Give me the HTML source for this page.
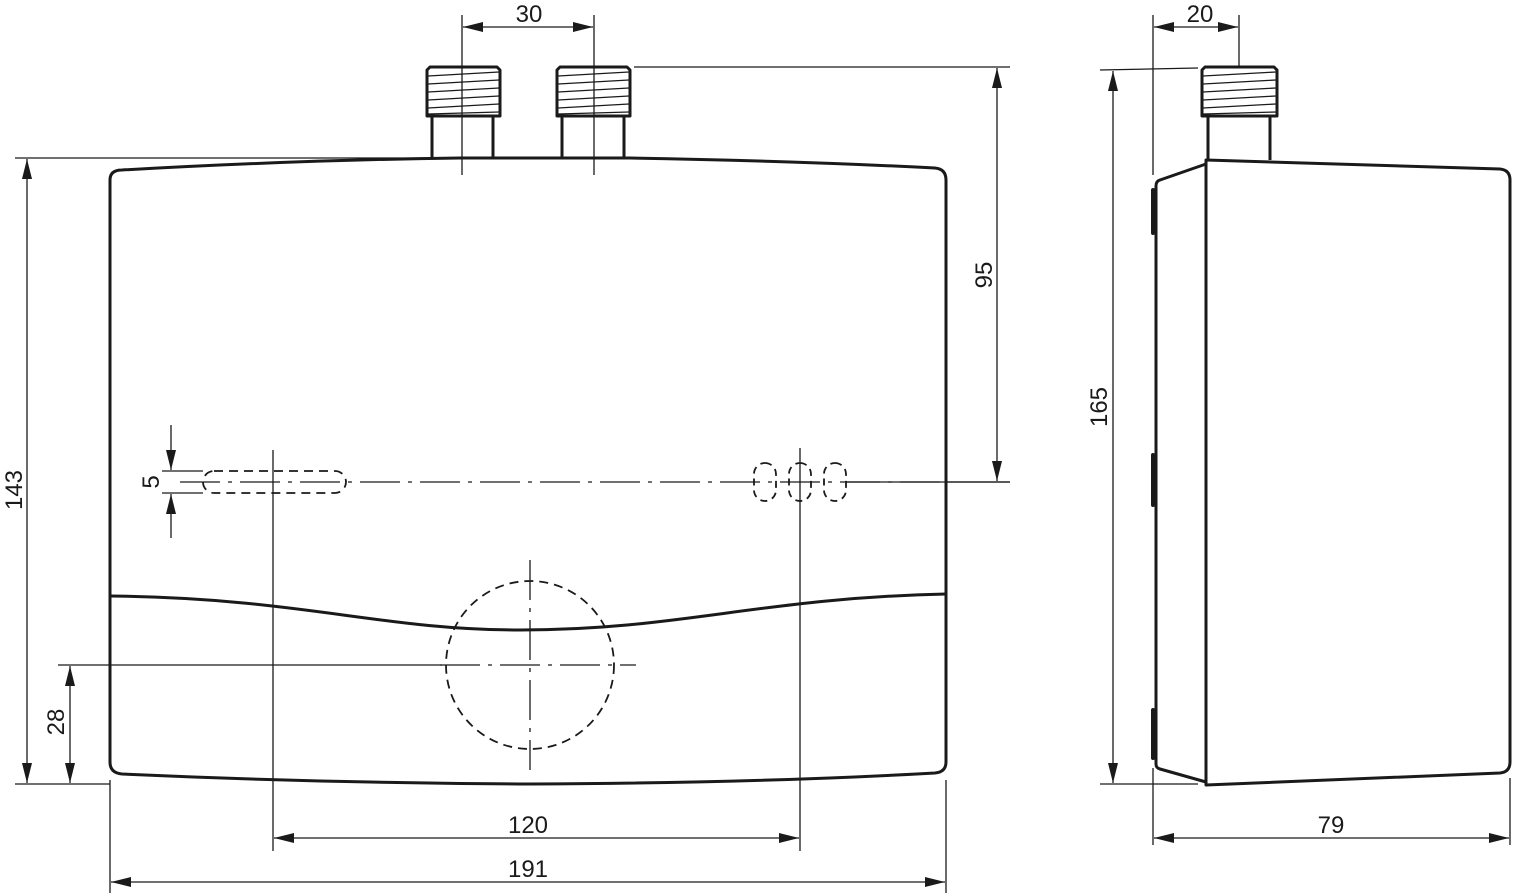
<!DOCTYPE html>
<html><head><meta charset="utf-8"><style>
html,body{margin:0;padding:0;background:#fff;}
svg{display:block;}
text{font-family:"Liberation Sans","DejaVu Sans",sans-serif;font-size:24px;fill:#1a1a1a;}
</style></head><body>
<svg width="1514" height="896" viewBox="0 0 1514 896" xmlns="http://www.w3.org/2000/svg">
<defs>
<marker id="a" viewBox="0 0 20 10" refX="20" refY="5" markerWidth="20" markerHeight="10" markerUnits="userSpaceOnUse" orient="auto-start-reverse">
<path d="M0,0 L20,5 L0,10 z" fill="#1a1a1a"/>
</marker>
</defs>
<g stroke="#1a1a1a" fill="none">
<g stroke-width="1.3">
<line x1="15" y1="158" x2="430" y2="158"/>
<line x1="15" y1="784" x2="110" y2="784"/>
<line x1="58" y1="665" x2="442" y2="665"/>
<line x1="462" y1="15" x2="462" y2="175"/>
<line x1="594" y1="15" x2="594" y2="175"/>
<line x1="634" y1="67" x2="1010" y2="67"/>
<line x1="945" y1="482" x2="1010" y2="482"/>
<line x1="273" y1="450" x2="273" y2="851"/>
<line x1="800" y1="448" x2="800" y2="851"/>
<line x1="110" y1="780" x2="110" y2="893"/>
<line x1="946" y1="780" x2="946" y2="893"/>
<line x1="162" y1="471" x2="203" y2="471"/>
<line x1="162" y1="493" x2="203" y2="493"/>
<line x1="27" y1="783" x2="27" y2="159" marker-start="url(#a)" marker-end="url(#a)"/>
<line x1="70" y1="783" x2="70" y2="666" marker-start="url(#a)" marker-end="url(#a)"/>
<line x1="463" y1="27" x2="593" y2="27" marker-start="url(#a)" marker-end="url(#a)"/>
<line x1="997" y1="68" x2="997" y2="481" marker-start="url(#a)" marker-end="url(#a)"/>
<line x1="171" y1="425" x2="171" y2="470" marker-end="url(#a)"/>
<line x1="171" y1="538" x2="171" y2="494" marker-end="url(#a)"/>
<line x1="274" y1="838" x2="799" y2="838" marker-start="url(#a)" marker-end="url(#a)"/>
<line x1="111" y1="882" x2="945" y2="882" marker-start="url(#a)" marker-end="url(#a)"/>
<line x1="180" y1="482" x2="945" y2="482" stroke-dasharray="40,8,4,8"/>
<line x1="845" y1="482" x2="1010" y2="482"/>
<line x1="530" y1="560" x2="530" y2="770" stroke-dasharray="40,8,4,8"/>
<line x1="440" y1="665" x2="636" y2="665" stroke-dasharray="40,8,4,8"/>
<line x1="1153" y1="15" x2="1153" y2="175"/>
<line x1="1239" y1="15" x2="1239" y2="67"/>
<line x1="1154" y1="27" x2="1238" y2="27" marker-start="url(#a)" marker-end="url(#a)"/>
<line x1="1100" y1="70" x2="1198" y2="68"/>
<line x1="1100" y1="784" x2="1198" y2="784"/>
<line x1="1113" y1="71" x2="1113" y2="783" marker-start="url(#a)" marker-end="url(#a)"/>
<line x1="1153" y1="768" x2="1153" y2="845"/>
<line x1="1510" y1="778" x2="1510" y2="845"/>
<line x1="1154" y1="838" x2="1509" y2="838" marker-start="url(#a)" marker-end="url(#a)"/>
</g>
<g stroke-width="1.8" stroke-dasharray="9,6">
<rect x="203" y="471" width="143" height="22" rx="11"/>
<circle cx="530" cy="665" r="84"/>
</g>
<g stroke-width="1.8" stroke-dasharray="7,5">
<rect x="754" y="463" width="22" height="38" rx="11"/>
<rect x="789" y="463" width="22" height="38" rx="11"/>
<rect x="824" y="463" width="22" height="38" rx="11"/>
</g>
<g stroke-width="3" stroke-linejoin="round">
<path d="M110,180 Q110,170 122,170 Q300,160 460,158 L630,158 Q800,161 935,168 Q946,169 946,180 L946,762 Q946,772 935,773 Q760,783 530,784 Q320,783 122,774 Q110,773 110,762 Z"/>
<path d="M110,596 C300,598 380,630 520,630 C680,630 760,598 946,594"/>
<path d="M432,158 L432,116 M493,116 L493,158 M562,158 L562,116 M624,116 L624,158"/>
<path d="M427,116 L427,70 L430,67 L497,67 L500,70 L500,116 Z"/>
<path d="M557,116 L557,70 L560,67 L627,67 L630,70 L630,116 Z"/>
<path d="M1208,160 L1208,116 M1270,116 L1270,160"/>
<path d="M1202,116 L1202,70 L1205,67 L1274,67 L1277,70 L1277,116 Z"/>
<path d="M1206,160 L1500,169 Q1510,170 1510,180 L1510,762 Q1510,772 1500,773 L1206,785 Z"/>
<path d="M1206,164 L1160,180 Q1156,181 1156,186 L1156,764 Q1156,768 1160,769 L1206,782"/>
</g>
<g stroke-width="1.3">
<path d="M428,76 L499,72 M428,84 L499,80 M428,92 L499,88 M428,100 L499,96 M428,108 L499,104 M428,114 L499,112"/>
<path d="M558,76 L629,72 M558,84 L629,80 M558,92 L629,88 M558,100 L629,96 M558,108 L629,104 M558,114 L629,112"/>
<path d="M1203,76 L1276,72 M1203,84 L1276,80 M1203,92 L1276,88 M1203,100 L1276,96 M1203,108 L1276,104 M1203,114 L1276,112"/>
</g>
<g stroke-width="4" stroke-linecap="round">
<path d="M1153,190 L1153,233 M1153,455 L1153,505 M1153,710 L1153,758"/>
</g>
</g>
<text x="529" y="22" text-anchor="middle">30</text>
<text x="1200" y="22" text-anchor="middle">20</text>
<text x="528" y="833" text-anchor="middle">120</text>
<text x="528" y="877" text-anchor="middle">191</text>
<text x="1331" y="833" text-anchor="middle">79</text>
<text transform="translate(22,490) rotate(-90)" text-anchor="middle">143</text>
<text transform="translate(64,722) rotate(-90)" text-anchor="middle">28</text>
<text transform="translate(992,275) rotate(-90)" text-anchor="middle">95</text>
<text transform="translate(1107,407) rotate(-90)" text-anchor="middle">165</text>
<text transform="translate(159,482) rotate(-90)" text-anchor="middle">5</text>
</svg>
</body></html>
